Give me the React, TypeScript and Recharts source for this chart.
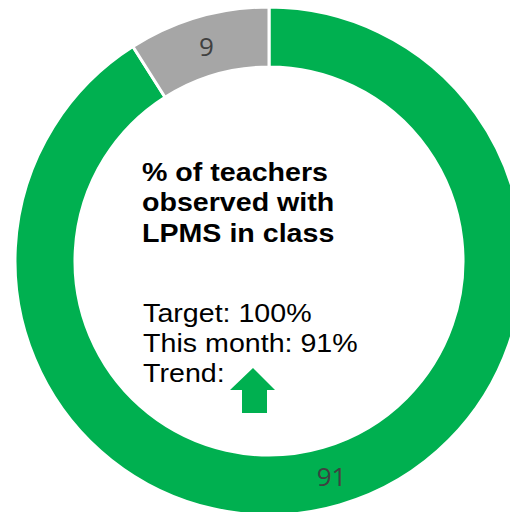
import React from 'react';
import { PieChart, Pie, Cell } from 'recharts';

const sliceNames = ['Observed with LPMS', 'Not observed'];
const sliceValues = [91, 9];
const sliceColors = ['#00B050', '#A6A6A6'];

const titleLines = ['% of teachers', 'observed with', 'LPMS in class'];
const statLines = ['Target: 100%', 'This month: 91%', 'Trend:'];

const data = sliceNames.map((name, i) => ({ name, value: sliceValues[i] }));

const CX = 269;
const CY = 261;
const RADIAN = Math.PI / 180;

const renderSliceLabel = ({ cx, cy, midAngle, innerRadius, outerRadius, value }: any) => {
  const r = (innerRadius + outerRadius) / 2;
  const x = cx + r * Math.cos(-midAngle * RADIAN);
  const y = cy + r * Math.sin(-midAngle * RADIAN);
  return (
    <text
      x={x}
      y={y}
      fill="#404040"
      fontSize={26}
      fontFamily="'Open Sans', 'DejaVu Sans', sans-serif"
      textAnchor="middle"
      dominantBaseline="central"
    >
      {value}
    </text>
  );
};

// center text block + trend arrow, placed from the pie's center
const CenterBlock = ({ cx, cy }: { cx: number; cy: number }) => {
  const left = cx - 127;
  const stretch = `translate(${left},0) scale(1.1,1) translate(${-left},0)`;
  const ax = cx - 16;
  const ay = cy + 107;
  const arrow = [
    [ax, ay],
    [ax + 22, ay + 22],
    [ax + 14, ay + 22],
    [ax + 14, ay + 45],
    [ax - 11, ay + 45],
    [ax - 11, ay + 22],
    [ax - 23, ay + 22],
  ]
    .map((p) => p.join(','))
    .join(' ');
  return (
    <g fontFamily="'Liberation Sans', Arial, sans-serif" fill="#000">
      <g transform={stretch}>
        {titleLines.map((t, i) => (
          <text key={t} x={left} y={cy - 80 + i * 30.5} fontSize={26} fontWeight="bold">
            {t}
          </text>
        ))}
        {statLines.map((t, i) => (
          <text key={t} x={left + 1} y={cy + 61 + i * 30} fontSize={26}>
            {t}
          </text>
        ))}
      </g>
      <polygon points={arrow} fill="#00B050" />
    </g>
  );
};

export default function App() {
  return (
    <div style={{ position: 'absolute', left: 0, top: 0, width: 510, height: 512, background: '#fff' }}>
      <PieChart width={510} height={512} margin={{ top: 0, right: 0, bottom: 0, left: 0 }}>
        <Pie
          data={data}
          dataKey="value"
          nameKey="name"
          cx={CX}
          cy={CY}
          innerRadius={194}
          outerRadius={254}
          startAngle={90}
          endAngle={-270}
          stroke="#ffffff"
          strokeWidth={3}
          label={renderSliceLabel}
          labelLine={false}
          isAnimationActive={false}
        >
          {data.map((d, i) => (
            <Cell key={d.name} fill={sliceColors[i]} />
          ))}
        </Pie>
        <CenterBlock cx={CX} cy={CY} />
      </PieChart>
    </div>
  );
}
